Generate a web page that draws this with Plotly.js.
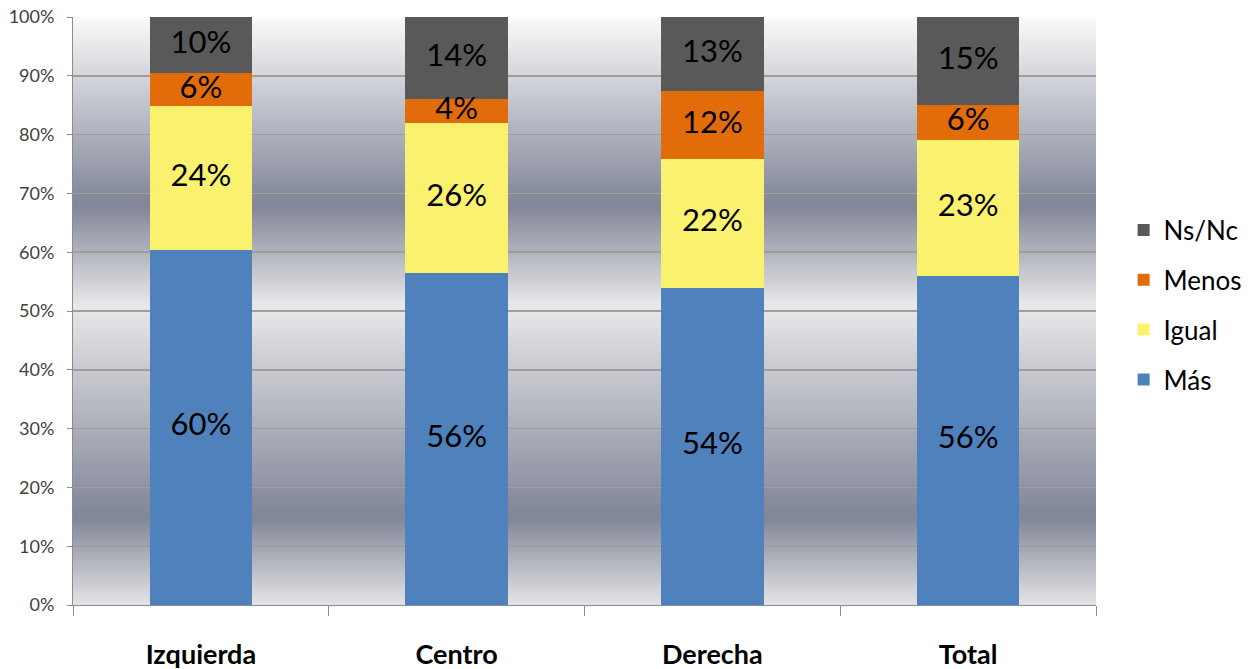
<!DOCTYPE html>
<html>
<head>
<meta charset="utf-8">
<script src="https://cdn.plot.ly/plotly-3.0.1.min.js"></script>
<style>html,body{margin:0;padding:0;background:#fff;}#chart{width:1251px;height:669px;}</style>
</head>
<body>
<div id="chart"></div>
<script>
// Data
const categories = ['Izquierda', 'Centro', 'Derecha', 'Total'];
const mas   = [60.4, 56.4, 53.9, 56.0];
const igual = [24.4, 25.6, 22.0, 23.1];
const menos = [5.6, 4.0, 11.5, 5.9];
const nsnc  = [9.6, 14.0, 12.6, 15.0];
const seriesNames = ['Más', 'Igual', 'Menos', 'Ns/Nc'];

// Styles
const colors = ['#4f81bd', '#faf26e', '#e36c0a', '#595959'];
const FONT = 'Lato, "Open Sans", "DejaVu Sans", sans-serif';
const seriesValues = [mas, igual, menos, nsnc];

const traces = [];
seriesValues.forEach((vals, i) => {
  traces.push({
    type: 'bar', x: categories, y: vals, name: seriesNames[i],
    marker: {color: colors[i], line: {width: 0}},
    width: 0.4, legendgroup: 'g' + i, legendrank: 10 - i, hoverinfo: 'skip'
  });
});

// data labels at segment centers (computed from data)
const labX = [], labY = [], labT = [];
categories.forEach((c, j) => {
  let base = 0;
  seriesValues.forEach(vals => {
    labX.push(c);
    labY.push(base + vals[j] / 2);
    labT.push(Math.round(vals[j]) + '%');
    base += vals[j];
  });
});
traces.push({
  type: 'scatter', mode: 'text', x: labX, y: labY, text: labT,
  textposition: 'middle center', showlegend: false, hoverinfo: 'skip',
  textfont: {family: FONT, size: 31, color: '#000'}
});

// background gradient bands
const stops = [
  [0, [228, 228, 230]],
  [15, [128, 133, 151]],
  [51, [232, 232, 233]],
  [68, [128, 133, 151]],
  [100, [250, 250, 250]]
];
function colAt(v) {
  for (let k = 0; k < stops.length - 1; k++) {
    const a = stops[k], b = stops[k + 1];
    if (v >= a[0] && v <= b[0]) {
      const t = (v - a[0]) / (b[0] - a[0]);
      const c = a[1].map((x, n) => Math.round(x + (b[1][n] - x) * t));
      return 'rgb(' + c.join(',') + ')';
    }
  }
  return 'rgb(250,250,250)';
}
const shapes = [];
const step = 0.5;
for (let v = 0; v < 100; v += step) {
  shapes.push({
    type: 'rect', xref: 'paper', yref: 'y', x0: 0, x1: 1, y0: v, y1: Math.min(100, v + step * 2),
    fillcolor: colAt(v + step / 2), line: {width: 0}, layer: 'below'
  });
}

const layout = {
  width: 1251, height: 669,
  margin: {l: 73, r: 155, t: 17, b: 64, autoexpand: false},
  paper_bgcolor: '#fff', plot_bgcolor: 'rgba(0,0,0,0)',
  barmode: 'stack', bargap: 0.6,
  font: {family: FONT, color: '#404040'},
  shapes: shapes,
  xaxis: {
    type: 'category', showgrid: false, showline: true, linecolor: '#8c8c8c', linewidth: 1,
    ticks: 'outside', tickson: 'boundaries', ticklen: 10, tickcolor: '#8c8c8c',
    tickfont: {family: FONT, size: 27, color: '#000', weight: 'bold'},
    ticklabelstandoff: 26, fixedrange: true
  },
  yaxis: {
    range: [0, 100], dtick: 10, ticksuffix: '%', showgrid: true, gridcolor: '#9e9e9e', gridwidth: 1.5,
    showline: true, linecolor: '#8c8c8c', ticks: 'outside', ticklen: 5, tickcolor: '#8c8c8c',
    tickfont: {family: FONT, size: 18, color: '#404040'}, zeroline: false,
    ticklabelstandoff: 9, fixedrange: true
  },
  legend: {
    x: 1.027, xanchor: 'left', y: 0.51, yanchor: 'middle', traceorder: 'grouped',
    tracegroupgap: 13, font: {family: FONT, size: 26, color: '#000'},
    bgcolor: 'rgba(0,0,0,0)', itemwidth: 30
  },
  showlegend: true
};

Plotly.newPlot('chart', traces, layout, {displayModeBar: false, staticPlot: true});
</script>
</body>
</html>
